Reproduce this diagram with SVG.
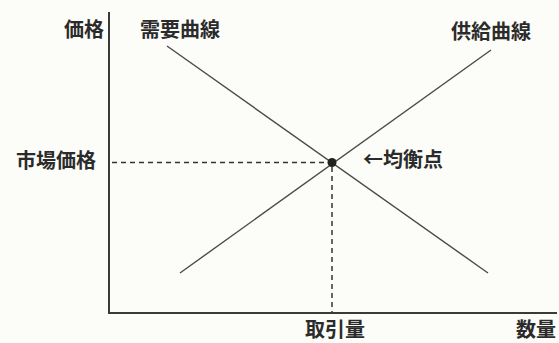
<svg xmlns="http://www.w3.org/2000/svg" width="559" height="343" viewBox="0 0 559 343">
<style>
.t{font-family:"Noto Sans CJK JP","Noto Sans CJK SC",sans-serif;font-size:20px;font-weight:700;fill:#2b2b2b}
.ax{stroke:#3a3a3a;stroke-width:2;fill:none}
.cv{stroke:#4a4a4a;stroke-width:1.4;fill:none}
.ds{stroke:#333;stroke-width:1.5;stroke-dasharray:5 4;fill:none}
</style>
<rect width="559" height="343" fill="#fcfcf8"/>
<g id="axes">
<path class="ax" d="M109 12 V313 H557"/>
</g>
<g id="connectors">
<line class="ds" x1="112" y1="162.5" x2="328" y2="162.5"/>
<line class="ds" x1="332" y1="167" x2="332" y2="312"/>
</g>
<g id="demand">
<line class="cv" x1="167" y1="46" x2="488" y2="273"/>
<text class="t" x="140" y="37">需要曲線</text>
</g>
<g id="supply">
<line class="cv" x1="180" y1="273" x2="491" y2="50"/>
<text class="t" x="451" y="39">供給曲線</text>
</g>
<g id="equilibrium">
<circle cx="332" cy="162.5" r="4.5" fill="#222"/>
<text class="t" x="363" y="167">←均衡点</text>
</g>
<g id="labels">
<text class="t" x="104" y="37" text-anchor="end">価格</text>
<text class="t" x="16" y="168">市場価格</text>
<text class="t" x="305" y="337">取引量</text>
<text class="t" x="516" y="337">数量</text>
</g>
</svg>
